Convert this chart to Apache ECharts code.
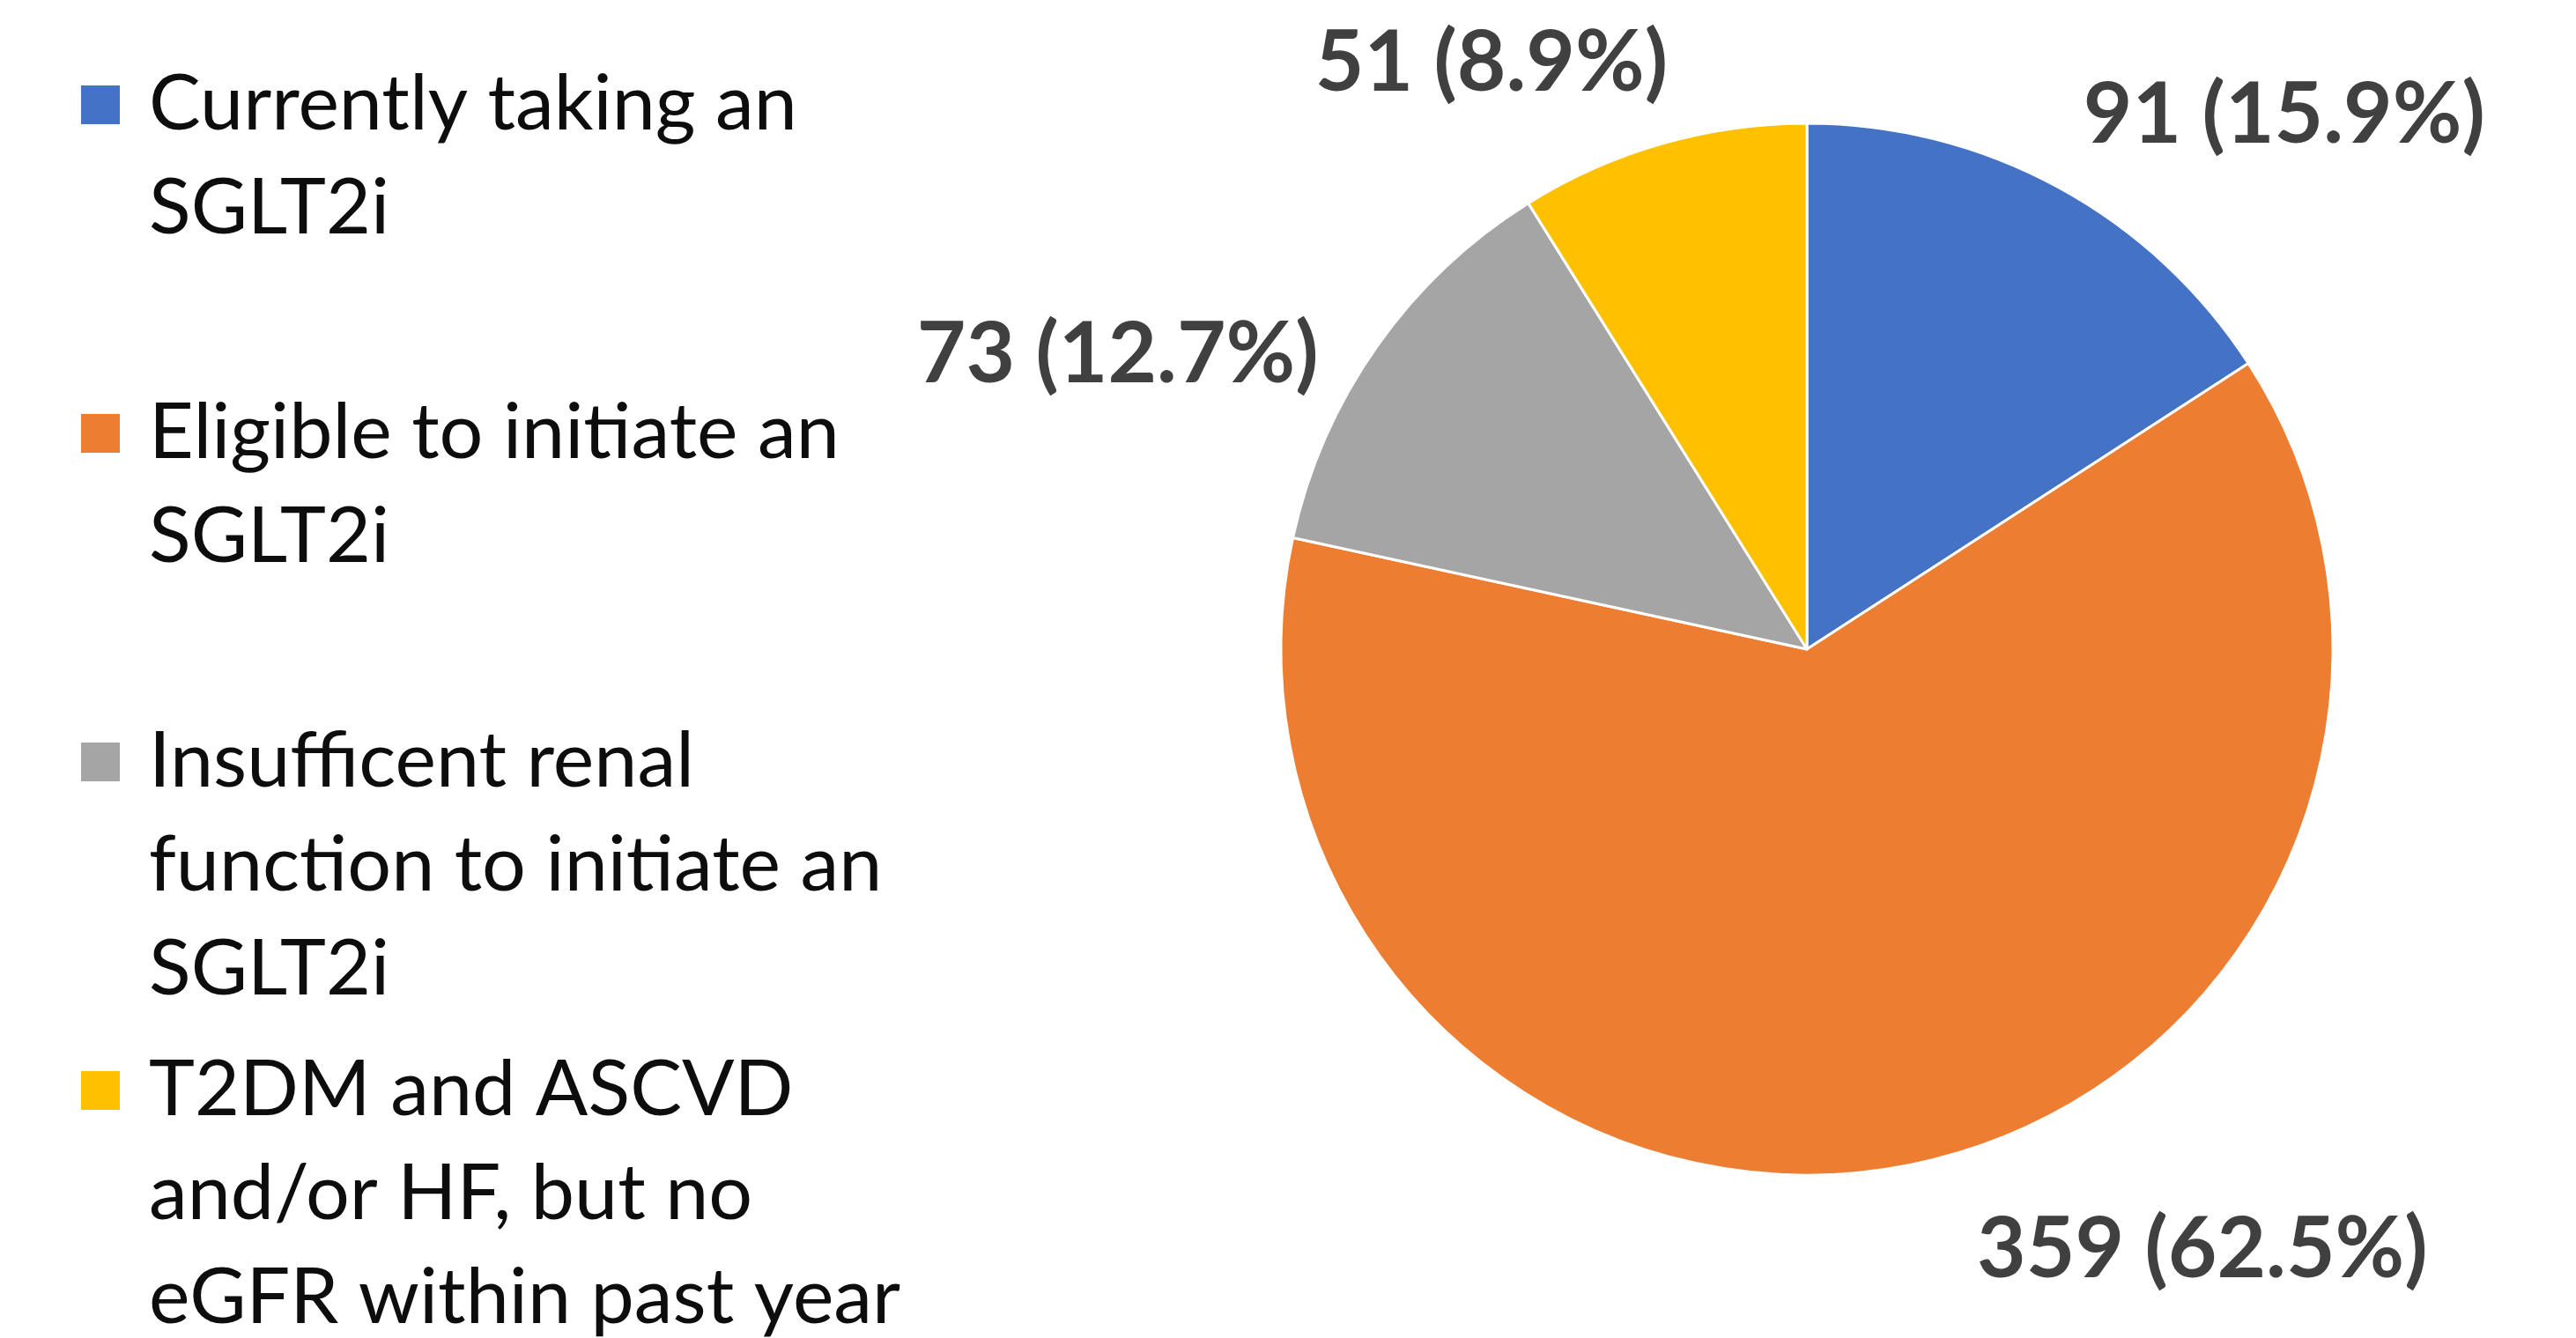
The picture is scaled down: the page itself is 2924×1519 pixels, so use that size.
<!DOCTYPE html>
<html>
<head>
<meta charset="utf-8">
<script src="https://cdn.jsdelivr.net/npm/echarts@6/dist/echarts.min.js"></script>
<style>
  html, body { margin: 0; padding: 0; background: #ffffff; }
  #chart { width: 2924px; height: 1519px; }
</style>
</head>
<body>
<div id="chart"></div>
<script>
// ---- data ----
const categories = [
  'Currently taking an SGLT2i',
  'Eligible to initiate an SGLT2i',
  'Insufficent renal function to initiate an SGLT2i',
  'T2DM and ASCVD and/or HF, but no eGFR within past year'
];
const legendText = [
  'Currently taking an\nSGLT2i',
  'Eligible to initiate an\nSGLT2i',
  'Insufficent renal\nfunction to initiate an\nSGLT2i',
  'T2DM and ASCVD\nand/or HF, but no\neGFR within past year'
];
const counts = [91, 359, 73, 51];

// ---- styles ----
const colors = ['#4472C4', '#ED7D31', '#A5A5A5', '#FFC000'];
const FONT = 'Lato, "Noto Sans", sans-serif';
const LEG_SIZE = 88, LEG_LH = 118;
const legendIconCenters = [119, 492, 865, 1238];
const labelNudge = [[-5, -29], [70, 36], [-12, 44], [28, -33]];

const chart = echarts.init(document.getElementById('chart'), null, { renderer: 'canvas' });

const legends = categories.map((name, i) => {
  const lines = legendText[i].split('\n');
  const n = lines.length;
  // pad with empty lines above so the first line sits level with the icon
  const txt = '\n'.repeat(n - 1) + legendText[i];
  const boxH = (2 * n - 1) * LEG_LH;
  return {
    data: [name],
    left: 90,
    top: legendIconCenters[i] - boxH / 2,
    padding: 0,
    orient: 'vertical',
    icon: 'rect',
    itemWidth: 46,
    itemHeight: 46,
    selectedMode: false,
    formatter: () => txt,
    textStyle: {
      fontFamily: FONT,
      fontSize: LEG_SIZE,
      lineHeight: LEG_LH,
      color: '#0D0D0D',
      padding: [0, 0, 0, 27]
    }
  };
});

chart.setOption({
  backgroundColor: '#ffffff',
  animation: false,
  color: colors,
  legend: legends,
  series: [{
    type: 'pie',
    center: [2051, 737],
    radius: [0, 597],
    startAngle: 90,
    clockwise: true,
    percentPrecision: 1,
    avoidLabelOverlap: false,
    itemStyle: { borderColor: '#ffffff', borderWidth: 3 },
    label: {
      show: true,
      position: 'outside',
      formatter: '{c} ({d}%)',
      fontFamily: FONT,
      fontWeight: 'bold',
      fontSize: 96,
      color: '#404040'
    },
    labelLine: { show: false, length: 60, length2: 0 },
    labelLayout: (p) => ({ dx: labelNudge[p.dataIndex][0], dy: labelNudge[p.dataIndex][1] }),
    emphasis: { disabled: true },
    data: categories.map((name, i) => ({ name, value: counts[i] }))
  }]
});
</script>
</body>
</html>
